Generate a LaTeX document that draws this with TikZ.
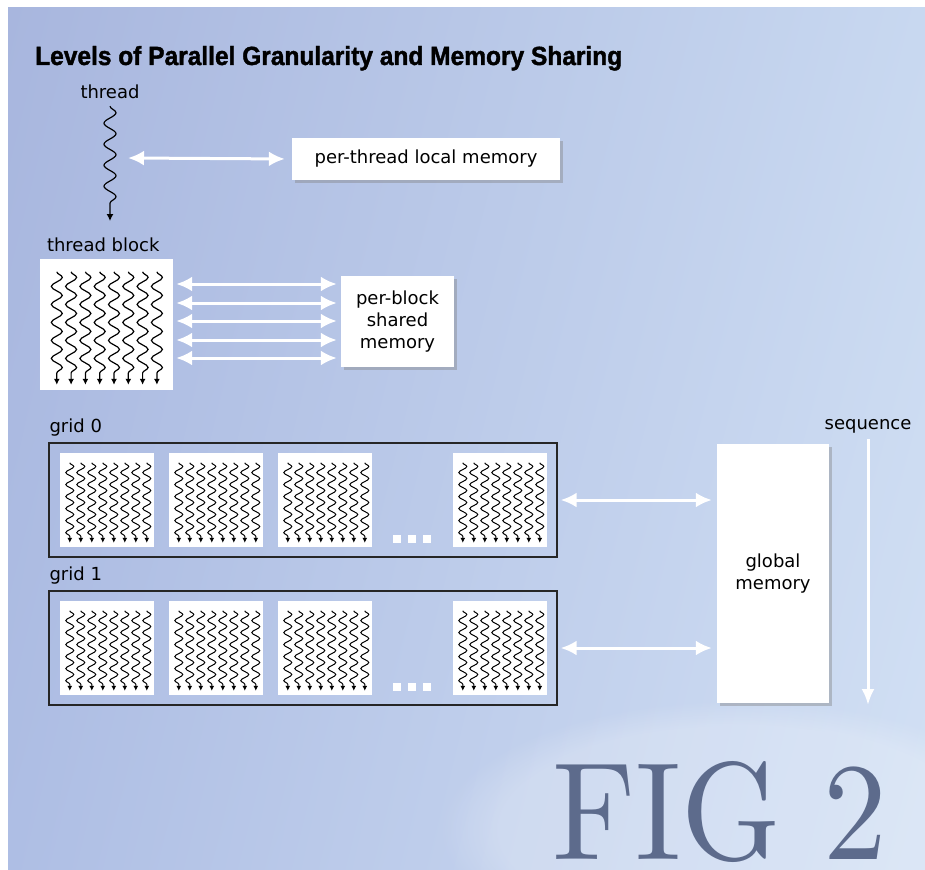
\documentclass[tikz,border=0pt]{standalone}
\usepackage{fontspec}
\usepackage{xcolor}
\usetikzlibrary{calc,
	positioning,
	shadows,
	shadings,
	fadings,
	arrows.meta,
	decorations.pathmorphing}
\newfontfamily\labelfont{DejaVu Sans}
\newfontfamily\titlefont[BoldFeatures={FakeBold=1.6}]{Liberation Sans}
\definecolor{bgul}{RGB}{168,182,222}
\definecolor{bgll}{RGB}{174,190,228}
\definecolor{bgur}{RGB}{200,216,240}
\definecolor{bglr}{RGB}{210,224,244}
\definecolor{figblue}{RGB}{93,107,140}

\begin{document}
\begin{tikzpicture}[x=1pt, y=-1pt,
	lbl/.style={font=\labelfont\fontsize{18}{22}\selectfont, inner sep=0pt},
	membox/.style={fill=white, inner sep=0pt, align=center,
		font=\labelfont\fontsize{18}{22}\selectfont,
		drop shadow={opacity=0.4, shadow xshift=3pt, shadow yshift=-3pt}},
	tblock/.style={fill=white, inner sep=0pt},
	gridframe/.style={draw=black!85, line width=1.3pt, inner sep=0pt},
	memarrow/.style={white, line width=3pt,
		{Latex[length=16pt,width=15pt]}-{Latex[length=16pt,width=15pt]}},
	thrd/.style={black, line width=1.2pt, decorate}]
	\useasboundingbox (0,0) rectangle (925,869);
	% background
	\shade[upper left=bgul, upper right=bgur, lower left=bgll, lower right=bglr] (8,8) rectangle (925,869);
	\fill[white, opacity=0.22, path fading=circle with fuzzy edge 20 percent] (740,830) ellipse (300 and 130);

	\node[anchor=base west, inner sep=0pt] (title) at (35,65)
		{\resizebox{587pt}{19pt}{\titlefont\bfseries Levels of Parallel Granularity and Memory Sharing}};

	% one thread
	\node[lbl] (thread) at (110,92) {thread};
	\coordinate (thrdend) at (110,221);
	\draw[thrd, -{Latex[length=7pt,width=7pt]}, decoration={snake, amplitude=6pt, segment length=21pt, post length=8pt}]
		($(thread.south)+(0,7)$) -- (thrdend);
	\node[membox, minimum width=268pt, minimum height=42pt] (ptlm) at (426,159) {per-thread local memory};
	\coordinate (thrdmid) at (128,158);
	\draw[memarrow, shorten >=7pt] (thrdmid) -- (ptlm.west);

	% thread block
	\node[tblock, minimum width=133pt, minimum height=131pt] (blk) at (106.5,324.5) {};
	\node[lbl, anchor=south west] (blklbl) at ($(blk.north west)+(7,-7)$) {thread block};
	\foreach \i in {0,...,7}
		\draw[thrd, -{Latex[length=6pt,width=6pt]}, decoration={snake, amplitude=5.5pt, segment length=18pt, post length=7pt}]
			($(blk.north west)+(17+\i*14.3,13)$) -- ++(0,113);
	\node[membox, minimum width=113pt, minimum height=91pt] (psm) at (397.5,321.5) {per-block\\shared\\memory};
	\foreach \y in {284,303,321,340,358}
		\draw[memarrow, shorten <=3pt, shorten >=4pt] (blk.east |- 0,\y) -- (psm.west |- 0,\y);

	% grids
	\node[gridframe, minimum width=508pt, minimum height=114pt] (g0) at (303,500) {};
	\node[gridframe, minimum width=508pt, minimum height=114pt] (g1) at (303,648) {};
	\node[lbl, anchor=south west] (g0lbl) at ($(g0.north west)+(1,-6)$) {grid 0};
	\node[lbl, anchor=south west] (g1lbl) at ($(g1.north west)+(1,-6)$) {grid 1};
	\foreach \g in {0,1} {
		\foreach \b/\x in {1/107,2/216,3/325,4/500} {
			\node[tblock, minimum width=94pt, minimum height=94pt] (g\g b\b) at (\x,500+\g*148) {};
			\foreach \i in {0,...,7}
				\draw[thrd, line width=1pt, -{Latex[length=5pt,width=5pt]}, decoration={snake, amplitude=4pt, segment length=12pt, post length=5pt}]
					($(g\g b\b.north west)+(10+\i*11,10)$) -- ++(0,80);
		}
		\foreach \k in {0,1,2}
			\fill[white] ($(g\g b3.south east)+(21+\k*15,-4)$) rectangle ++(8,-8);
	}

	% global memory
	\node[membox, minimum width=112pt, minimum height=259pt] (gmem) at (773,573.5) {global\\memory};
	\draw[memarrow, shorten <=3pt, shorten >=5pt] (g0.east) -- (gmem.west |- g0.east);
	\draw[memarrow, shorten <=3pt, shorten >=5pt] (g1.east) -- (gmem.west |- g1.east);

	\node[lbl] (seq) at (868,426) {sequence};
	\coordinate (seqend) at (868,705);
	\draw[white, line width=3pt, -{Latex[length=16pt,width=13pt]}, shorten <=6pt] (seq.south) -- (seqend);

	\node[anchor=base west, inner sep=0pt, text=figblue] (fig) at (552,859) {\resizebox{335pt}{98pt}{FIG 2}};
\end{tikzpicture}
\end{document}
